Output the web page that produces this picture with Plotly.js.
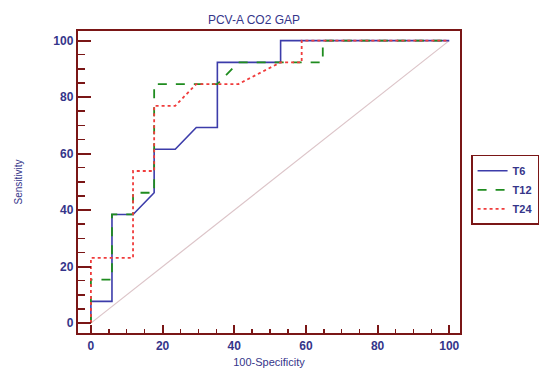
<!DOCTYPE html>
<html>
<head>
<meta charset="utf-8">
<script src="https://cdn.plot.ly/plotly-3.0.1.min.js"></script>
<style>html,body{margin:0;padding:0;background:#fff;}#chart{width:557px;height:368px;}</style>
</head>
<body>
<div id="chart"></div>
<script>
// 100-Specificity (x) and Sensitivity (y) for each ROC curve
const t6X  = [0, 0, 5.88, 5.88, 11.76, 17.65, 17.65, 23.53, 29.41, 35.29, 35.29, 52.94, 52.94, 100];
const t6Y  = [0, 7.69, 7.69, 38.46, 38.46, 46.15, 61.54, 61.54, 69.23, 69.23, 92.31, 92.31, 100, 100];
const t12X = [0, 0, 5.88, 5.88, 11.76, 11.76, 17.65, 17.65, 35.29, 41.18, 64.71, 64.71, 100];
const t12Y = [0, 15.38, 15.38, 38.46, 38.46, 46.15, 46.15, 84.62, 84.62, 92.31, 92.31, 100, 100];
const t24X = [0, 0, 11.76, 11.76, 17.65, 17.65, 23.53, 29.41, 41.18, 52.94, 58.82, 58.82, 100];
const t24Y = [0, 23.08, 23.08, 53.85, 53.85, 76.92, 76.92, 84.62, 84.62, 92.31, 92.31, 100, 100];
const refX = [0, 100];
const refY = [0, 100];
const seriesNames = ["T6", "T12", "T24"];

const frame = "#7a1616";
const txt = "#35358a";
const fnt = "Liberation Sans, Arial, sans-serif";

const traces = [
  {x: refX, y: refY, mode: "lines", line: {color: "#dcc4c8", width: 1.2}, showlegend: false, hoverinfo: "skip"},
  {x: t6X, y: t6Y, name: seriesNames[0], mode: "lines", line: {color: "#3c3caa", width: 1.6}},
  {x: t12X, y: t12Y, name: seriesNames[1], mode: "lines", line: {color: "#1f8c1f", width: 1.8, dash: "dash"}},
  {x: t24X, y: t24Y, name: seriesNames[2], mode: "lines", line: {color: "#f03c3c", width: 1.8, dash: "dot"}}
];

const layout = {
  width: 557, height: 368,
  margin: {l: 78, r: 97, t: 31, b: 35, pad: 0},
  paper_bgcolor: "#fff", plot_bgcolor: "#fff",
  font: {family: fnt, color: txt, size: 11},
  title: {text: "PCV-A CO2 GAP", x: 0.456, xref: "container", xanchor: "center", y: 0.946, yref: "container", yanchor: "middle", font: {size: 12, color: txt, family: fnt}},
  xaxis: {
    range: [-3.6, 103], tickvals: [0, 20, 40, 60, 80, 100], ticks: "inside", ticklen: 8, tickwidth: 2, tickcolor: frame,
    minor: {dtick: 5, tick0: 0, ticks: "inside", ticklen: 4, tickwidth: 1.5, tickcolor: frame, showgrid: false},
    showline: true, linecolor: frame, linewidth: 2.2, mirror: true, showgrid: false, zeroline: false,
    tickfont: {size: 12, color: txt, family: fnt, weight: "bold"},
    title: {text: "100-Specificity", font: {size: 11, color: txt, family: fnt}, standoff: 9}
  },
  yaxis: {
    range: [-3.5, 103.4], tickvals: [0, 20, 40, 60, 80, 100], ticks: "inside", ticklen: 13, tickwidth: 2, tickcolor: frame,
    minor: {dtick: 5, tick0: 0, ticks: "inside", ticklen: 7, tickwidth: 1.5, tickcolor: frame, showgrid: false},
    showline: true, linecolor: frame, linewidth: 2.2, mirror: true, showgrid: false, zeroline: false,
    tickfont: {size: 12, color: txt, family: fnt, weight: "bold"},
    title: {text: "Sensitivity", font: {size: 10, color: txt, family: fnt}, standoff: 29}
  },
  legend: {
    x: 1.029, xanchor: "left", y: 0.59, yanchor: "top",
    bordercolor: frame, borderwidth: 1.5, bgcolor: "#fff",
    font: {size: 11, color: txt, family: fnt, weight: "bold"},
    tracegroupgap: 0, itemwidth: 30
  },
  showlegend: true
};

Plotly.newPlot("chart", traces, layout, {displayModeBar: false, staticPlot: true});
</script>
</body>
</html>
